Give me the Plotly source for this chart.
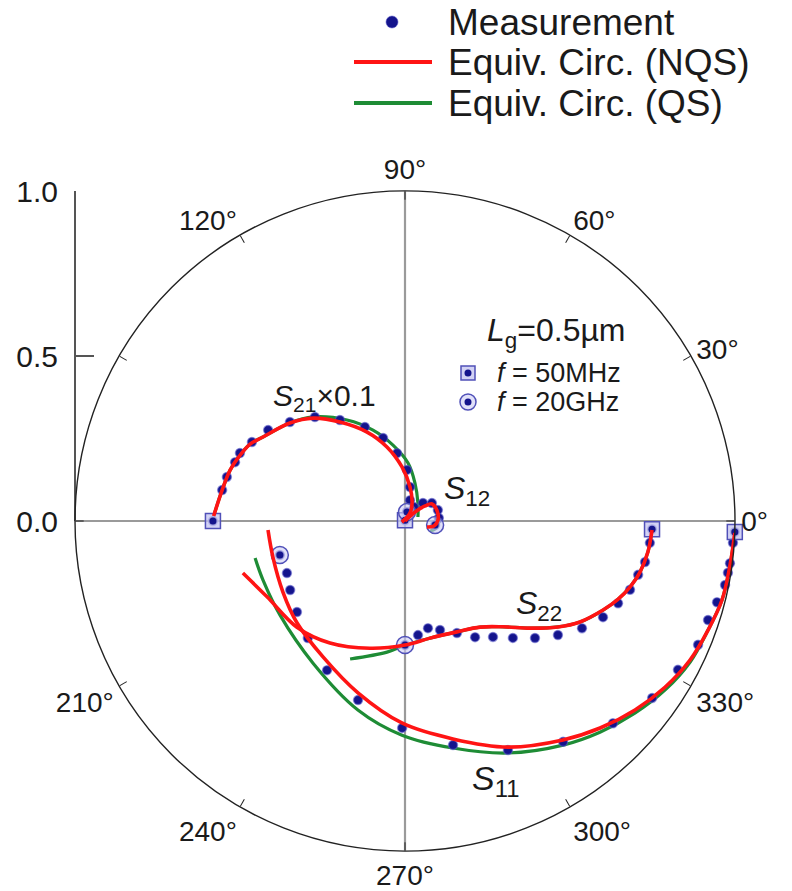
import plotly.graph_objects as go

# ---------------------------------------------------------------------------
# S-parameters of a Lg = 0.5 um FET, 50 MHz ... 20 GHz (magnitude, phase in deg)
# ---------------------------------------------------------------------------
# Measurement
s11_mag = [1.000, 0.996, 0.993, 0.991, 0.989, 0.977, 0.966, 0.964, 0.942, 0.921, 0.879,
           0.823, 0.761, 0.694, 0.627, 0.561, 0.510, 0.461, 0.428, 0.406, 0.391, 0.393]
s11_ang = [-1.9, -3.8, -7.4, -9.1, -11.3, -14.6, -18.1, -22.9, -28.6, -35.6, -44.2,
           -54.4, -65.8, -77.9, -90.8, -104.7, -117.6, -129.7, -139.9, -149.0, -156.2, -164.8]

s22_mag = [0.749, 0.745, 0.738, 0.725, 0.713, 0.692, 0.667, 0.627, 0.578, 0.530, 0.482,
           0.441, 0.411, 0.374, 0.347, 0.332, 0.348, 0.376]
s22_ang = [-1.9, -5.1, -9.7, -13.0, -17.0, -21.1, -25.9, -31.2, -36.7, -42.0, -47.3,
           -52.8, -58.9, -65.1, -72.2, -77.9, -83.5, -90.0]

s21_mag = [5.82, 5.62, 5.56, 5.45, 5.41, 5.22, 4.98, 4.60, 4.17, 3.64, 3.10,
           2.60, 2.07, 1.55, 1.04, 0.65, 0.28]
s21_ang = [180.0, 170.4, 166.1, 160.9, 157.6, 152.7, 146.4, 139.3, 130.9, 122.8, 113.1,
           104.8, 96.7, 87.8, 81.6, 76.6, 77.5]

s12_mag = [0.002, 0.023, 0.050, 0.077, 0.098, 0.105, 0.103, 0.092]
s12_ang = [90.0, 66.8, 57.3, 45.0, 33.7, 18.4, 5.0, -7.6]

# Equivalent circuit, non-quasi-static model
nqs_s11_mag = [1.000, 0.994, 0.990, 0.976, 0.961, 0.935, 0.902, 0.862, 0.818, 0.753,
               0.676, 0.612, 0.540, 0.481, 0.450, 0.428, 0.415, 0.416]
nqs_s11_ang = [-2.1, -7.7, -14.0, -19.8, -26.0, -32.6, -39.4, -46.7, -54.2, -65.5,
               -77.6, -90.9, -105.3, -121.1, -136.6, -149.8, -164.7, -176.2]

nqs_s22_mag = [0.749, 0.742, 0.729, 0.711, 0.687, 0.658, 0.612, 0.564, 0.499, 0.437,
               0.394, 0.371, 0.363, 0.376, 0.400, 0.434, 0.459, 0.477, 0.516]
nqs_s22_ang = [-2.1, -7.3, -12.2, -16.3, -20.3, -24.2, -30.0, -34.7, -40.6, -47.2,
               -54.7, -64.9, -77.9, -90.0, -105.4, -121.6, -135.5, -151.2, -162.2]

nqs_s21_mag = [5.80, 5.62, 5.52, 5.41, 5.24, 5.00, 4.58, 4.18, 3.59, 2.93, 2.31,
               1.64, 1.04, 0.59, 0.29, 0.10]
nqs_s21_ang = [178.5, 170.4, 163.8, 159.3, 153.6, 149.4, 139.6, 131.8, 123.3, 113.1, 103.7,
               93.2, 81.6, 68.7, 58.0, -161.6]

nqs_s12_mag = [0.000, 0.041, 0.076, 0.097, 0.102, 0.100, 0.089, 0.069]
nqs_s12_ang = [90.0, 42.0, 36.9, 32.2, 17.4, 1.7, -9.8, -15.3]

# Equivalent circuit, quasi-static model
qs_s11_mag = [1.000, 0.994, 0.990, 0.976, 0.964, 0.940, 0.908, 0.871, 0.831, 0.769,
              0.703, 0.649, 0.590, 0.513, 0.474, 0.466, 0.468]
qs_s11_ang = [-2.1, -7.7, -14.0, -19.8, -26.3, -33.0, -39.9, -47.3, -54.8, -66.1,
              -78.1, -90.8, -104.0, -122.9, -143.1, -157.4, -166.1]

qs_s22_mag = [0.749, 0.742, 0.729, 0.711, 0.687, 0.658, 0.612, 0.564, 0.499, 0.437,
              0.394, 0.371, 0.363, 0.376, 0.401, 0.450]
qs_s22_ang = [-2.1, -7.3, -12.2, -16.3, -20.3, -24.2, -30.0, -34.7, -40.6, -47.2,
              -54.7, -64.9, -77.9, -90.0, -97.8, -111.7]

qs_s21_mag = [5.80, 5.62, 5.52, 5.41, 5.24, 5.00, 4.58, 4.21, 3.53, 2.92, 2.33,
              1.76, 1.19, 0.67, 0.41]
qs_s21_ang = [178.5, 170.4, 163.8, 159.3, 153.6, 149.4, 139.6, 131.5, 119.9, 109.4, 99.0,
              87.0, 75.3, 54.2, 17.1]

qs_s12_mag = [0.000, 0.047, 0.080, 0.098, 0.103, 0.103, 0.094, 0.082]
qs_s12_ang = [90.0, 45.0, 37.3, 29.7, 13.6, -1.7, -14.9, -21.8]

S21_SCALE = 0.1          # S21 is drawn scaled down by ten
radial_ticks = [0.0, 0.5, 1.0]
angle_ticks = list(range(0, 360, 30))
angle_labels = ["0°", "30°", "60°", "90°", "120°", "", "", "210°", "240°", "270°",
                "300°", "330°"]

# ---------------------------------------------------------------------------
FONT = "Liberation Sans, Arial, Helvetica, sans-serif"
TXT = "#1a1a1a"
NAVY = "#14148c"
HALO = "rgba(90,90,200,0.55)"
RED = "#ff1414"
GREEN = "#1e8c35"
W, H = 792, 891
CX, CY, R = 405, 521, 330          # centre and radius of the chart circle, px


def px(x):
    return x / W


def py(y):
    return 1 - y / H


def scaled(vals, k):
    return [v * k for v in vals]


fig = go.Figure()

# dummy trace so that the cartesian magnitude scale is drawn
fig.add_trace(go.Scatter(x=[None], y=[None], xaxis="x", yaxis="y",
                         showlegend=False, hoverinfo="skip"))

# cross hair through the origin
for a, b in [(0, 180), (90, 270)]:
    fig.add_trace(go.Scatterpolar(r=[1, 0, 1], theta=[a, 0, b], mode="lines",
                                  line=dict(color="#9a9a9a", width=2.2),
                                  showlegend=False, hoverinfo="skip"))

measured = [
    (s11_mag, s11_ang),
    (s22_mag, s22_ang),
    (scaled(s21_mag, S21_SCALE), s21_ang),
    (s12_mag, s12_ang),
]
qs = [
    (qs_s11_mag, qs_s11_ang),
    (qs_s22_mag, qs_s22_ang),
    (scaled(qs_s21_mag, S21_SCALE), qs_s21_ang),
    (qs_s12_mag, qs_s12_ang),
]
nqs = [
    (nqs_s11_mag, nqs_s11_ang),
    (nqs_s22_mag, nqs_s22_ang),
    (scaled(nqs_s21_mag, S21_SCALE), nqs_s21_ang),
    (nqs_s12_mag, nqs_s12_ang),
]

for r, t in qs:
    fig.add_trace(go.Scatterpolar(r=r, theta=t, mode="lines",
                                  line=dict(color=GREEN, width=3.2, shape="spline"),
                                  showlegend=False, hoverinfo="skip"))

for r, t in measured:
    fig.add_trace(go.Scatterpolar(r=r, theta=t, mode="markers",
                                  marker=dict(color=NAVY, size=9,
                                              line=dict(color=HALO, width=1.5)),
                                  showlegend=False))

# frequency end points: 50 MHz (square) and 20 GHz (ringed dot)
first_r = [m[0][0] for m in measured]
first_t = [m[1][0] for m in measured]
last_r = [m[0][-1] for m in measured]
last_t = [m[1][-1] for m in measured]
fig.add_trace(go.Scatterpolar(r=first_r, theta=first_t, mode="markers",
                              marker=dict(symbol="square", size=15,
                                          color="rgba(195,195,240,0.75)",
                                          line=dict(color="#5050b8", width=1.5)),
                              showlegend=False))
fig.add_trace(go.Scatterpolar(r=last_r, theta=last_t, mode="markers",
                              marker=dict(symbol="circle", size=17,
                                          color="rgba(205,205,245,0.6)",
                                          line=dict(color="#5050b8", width=1.5)),
                              showlegend=False))
fig.add_trace(go.Scatterpolar(r=first_r + last_r, theta=first_t + last_t, mode="markers",
                              marker=dict(color=NAVY, size=7),
                              showlegend=False))

for r, t in nqs:
    fig.add_trace(go.Scatterpolar(r=r, theta=t, mode="lines",
                                  line=dict(color=RED, width=3.6, shape="spline"),
                                  showlegend=False, hoverinfo="skip"))

# ---------------------------------------------------------------------------
shapes = []
annotations = []

# legend at the top
shapes.append(dict(type="circle", xref="paper", yref="paper",
                   x0=px(386), x1=px(398), y0=py(28), y1=py(16),
                   fillcolor=NAVY, line=dict(color=HALO, width=1)))
shapes.append(dict(type="line", xref="paper", yref="paper",
                   x0=px(354), x1=px(432), y0=py(62), y1=py(62),
                   line=dict(color=RED, width=4)))
shapes.append(dict(type="line", xref="paper", yref="paper",
                   x0=px(354), x1=px(432), y0=py(103), y1=py(103),
                   line=dict(color=GREEN, width=4)))
for text, yy in [("Measurement", 22), ("Equiv. Circ. (NQS)", 62),
                 ("Equiv. Circ. (QS)", 103)]:
    annotations.append(dict(text=text, xref="paper", yref="paper",
                            x=px(446), y=py(yy), xanchor="left", yanchor="middle",
                            showarrow=False, font=dict(size=37, color=TXT, family=FONT)))

# frequency key
shapes.append(dict(type="rect", xref="paper", yref="paper",
                   x0=px(461), x1=px(475), y0=py(380), y1=py(366),
                   fillcolor="rgba(195,195,240,0.75)", line=dict(color="#5050b8", width=1.5)))
shapes.append(dict(type="circle", xref="paper", yref="paper",
                   x0=px(460), x1=px(476), y0=py(410), y1=py(394),
                   fillcolor="rgba(205,205,245,0.6)", line=dict(color="#5050b8", width=1.5)))
for yy in (373, 402):
    shapes.append(dict(type="circle", xref="paper", yref="paper",
                       x0=px(464.5), x1=px(471.5), y0=py(yy + 3.5), y1=py(yy - 3.5),
                       fillcolor=NAVY, line=dict(width=0)))

labels = [
    ("<i>L</i><sub>g</sub>=0.5µm", 556, 333, "center", 32),
    ("<i>f</i> = 50MHz", 495, 373, "left", 27),
    ("<i>f</i> = 20GHz", 495, 402, "left", 27),
    ("<i>S</i><sub>21</sub>×0.1", 324, 397, "center", 30),
    ("<i>S</i><sub>12</sub>", 442, 490, "left", 32),
    ("<i>S</i><sub>22</sub>", 514, 605, "left", 32),
    ("<i>S</i><sub>11</sub>", 470, 780, "left", 34),
]
for text, x, y, anchor, size in labels:
    annotations.append(dict(text=text, xref="paper", yref="paper", x=px(x), y=py(y),
                            xanchor=anchor, yanchor="middle", showarrow=False,
                            font=dict(size=size, color=TXT, family=FONT)))

fig.update_layout(
    width=W, height=H,
    margin=dict(l=0, r=0, t=0, b=0, pad=0, autoexpand=False),
    paper_bgcolor="white",
    plot_bgcolor="rgba(0,0,0,0)",
    font=dict(family=FONT, color=TXT),
    showlegend=False,
    polar=dict(
        domain=dict(x=[px(CX - R), px(CX + R)], y=[py(CY + R), py(CY - R)]),
        bgcolor="rgba(0,0,0,0)",
        radialaxis=dict(range=[0, 1], visible=False),
        angularaxis=dict(
            rotation=0, direction="counterclockwise",
            tickmode="array", tickvals=angle_ticks, ticktext=angle_labels,
            ticks="inside", ticklen=8, tickwidth=1.2, tickcolor="#222",
            showline=True, linecolor="#222", linewidth=1.4,
            showgrid=False,
            tickfont=dict(size=28, color=TXT, family=FONT),
        ),
    ),
    xaxis=dict(visible=False, domain=[0, 1], range=[0, 1], fixedrange=True,
               automargin=False),
    yaxis=dict(
        domain=[py(CY), py(CY - R)], range=[0, 1], anchor="free", position=px(CX - R),
        tickmode="array", tickvals=radial_ticks, tickformat=".1f",
        ticks="inside", ticklen=18, tickwidth=2, tickcolor="#555",
        showline=True, linecolor="#555", linewidth=2, automargin=False,
        showgrid=False, zeroline=False, ticklabelstandoff=10,
        tickfont=dict(size=30, color=TXT, family=FONT),
    ),
    shapes=shapes,
    annotations=annotations,
)

fig.write_html("out.html")
